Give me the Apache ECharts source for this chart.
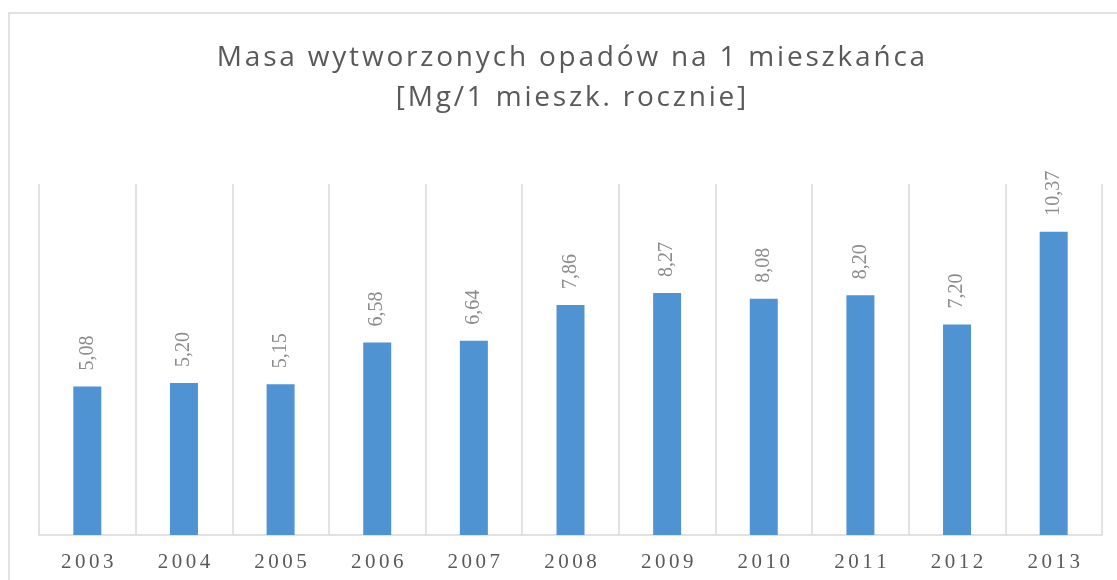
<!DOCTYPE html>
<html lang="pl">

<head>
    <meta charset="UTF-8">
    <title>Masa wytworzonych opadów</title>
    <script src="https://cdn.jsdelivr.net/npm/echarts@6.0.0/dist/echarts.min.js"></script>
    <style>
        html, body { margin: 0; padding: 0; background: #fff; }
    </style>
</head>

<body>
    <div id="main" style="width: 1117px;height:580px;"></div>

    <script type="text/javascript">
        // data
        const years = ['2003', '2004', '2005', '2006', '2007', '2008', '2009', '2010', '2011', '2012', '2013'];
        const massPerResident = [5.08, 5.20, 5.15, 6.58, 6.64, 7.86, 8.27, 8.08, 8.20, 7.20, 10.37];
        const titleLines = ['Masa wytworzonych opadów na 1 mieszkańca', '[Mg/1 mieszk. rocznie]'];

        // the picture is slightly stretched sideways, fake it with hair spaces
        const spread = (s, gap) => s.split('').join(gap || '\u200A');

        let myChart = echarts.init(document.getElementById('main'));

        let options = {
            animation: false,
            title: {
                text: titleLines.map(l => spread(l)).join('\n'),
                left: 566,
                top: 33,
                textAlign: 'center',
                textStyle: {
                    fontFamily: 'Open Sans',
                    fontSize: 28,
                    fontWeight: 'normal',
                    color: '#595959',
                    lineHeight: 40
                }
            },
            graphic: [{
                type: 'rect',
                shape: { x: 9, y: 13, width: 1300, height: 900 },
                style: { fill: 'none', stroke: '#d9d9d9', lineWidth: 1.5 },
                silent: true
            }],
            grid: { left: 39, right: 15, top: 184, bottom: 45 },
            xAxis: {
                type: 'category',
                data: years,
                axisLine: { lineStyle: { color: '#d9d9d9', width: 1.5 } },
                axisTick: { show: false },
                splitLine: { show: true, lineStyle: { color: '#d9d9d9', width: 1.5 } },
                axisLabel: {
                    margin: 17,
                    fontFamily: 'Liberation Serif',
                    fontSize: 21,
                    color: '#595959',
                    formatter: v => spread(v, '\u200A\u200A')
                }
            },
            yAxis: {
                type: 'value',
                min: 0,
                max: 12,
                show: false
            },
            series: [{
                type: 'bar',
                data: massPerResident,
                barWidth: 28,
                itemStyle: { color: '#5093d2' },
                label: {
                    show: true,
                    position: 'top',
                    rotate: 90,
                    align: 'left',
                    verticalAlign: 'middle',
                    distance: 16,
                    fontFamily: 'Liberation Serif',
                    fontSize: 20,
                    color: '#8c8c8c',
                    formatter: p => p.value.toFixed(2).replace('.', ',')
                }
            }]
        };

        myChart.setOption(options);
    </script>
</body>

</html>
